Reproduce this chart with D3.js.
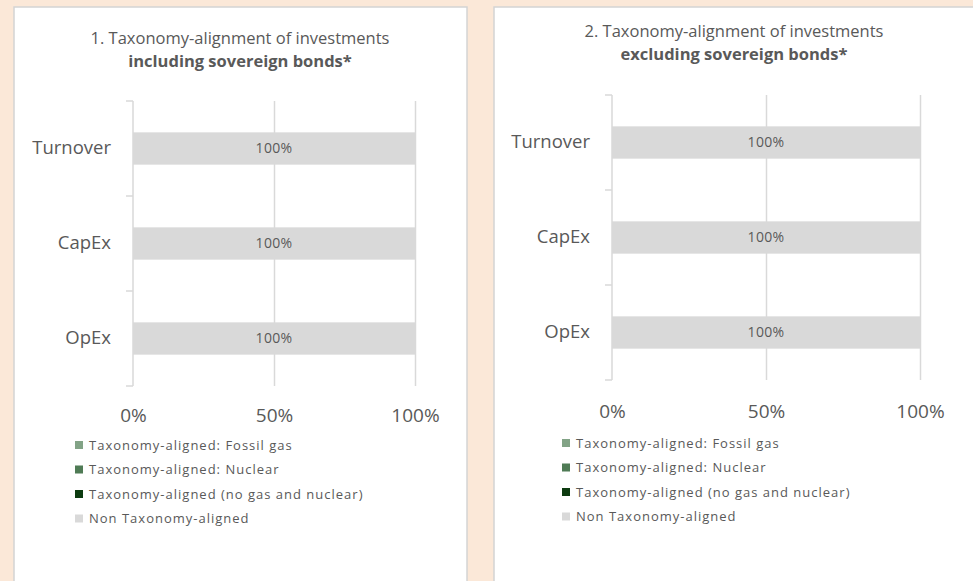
<!DOCTYPE html>
<html>
<head>
<meta charset="utf-8">
<script src="https://cdnjs.cloudflare.com/ajax/libs/d3/7.8.5/d3.min.js"></script>
<style>
  html, body { margin: 0; padding: 0; background: #fbe8d8; }
  svg { display: block; font-family: "Open Sans", "Liberation Sans", sans-serif; }
</style>
</head>
<body>
<svg width="973" height="581"></svg>
<script>
// categories and series
const categories = ["Turnover", "CapEx", "OpEx"];
const seriesNames = [
  "Taxonomy-aligned: Fossil gas",
  "Taxonomy-aligned: Nuclear",
  "Taxonomy-aligned (no gas and nuclear)",
  "Non Taxonomy-aligned"
];
const seriesColors = ["#82a386", "#4f7b55", "#0d3b10", "#d9d9d9"];
const xTicks = [0, 50, 100];

// chart 1: including sovereign bonds
const fossilGasIncl = [0, 0, 0];
const nuclearIncl = [0, 0, 0];
const alignedIncl = [0, 0, 0];
const nonAlignedIncl = [100, 100, 100];

// chart 2: excluding sovereign bonds
const fossilGasExcl = [0, 0, 0];
const nuclearExcl = [0, 0, 0];
const alignedExcl = [0, 0, 0];
const nonAlignedExcl = [100, 100, 100];

const titles1 = ["1. Taxonomy-alignment of investments", "including sovereign bonds*"];
const titles2 = ["2. Taxonomy-alignment of investments", "excluding sovereign bonds*"];

document.addEventListener("DOMContentLoaded", function() {
    let svg = d3.select("svg");
    const grey = "#d9d9d9";
    const textCol = "#595959";

    function rows(f, n, a, o) {
        return categories.map((c, i) => ({
            cat: c, s0: f[i], s1: n[i], s2: a[i], s3: o[i]
        }));
    }

    function drawPanel(cfg, data, titleLines) {
        // white card
        svg.append("rect")
            .attr("x", cfg.px).attr("y", 7)
            .attr("width", cfg.pw).attr("height", 620)
            .style("fill", "#fff")
            .style("stroke", "#d4d4d4")
            .style("stroke-width", 1.5);

        let g = svg.append("g");

        let x = d3.scaleLinear().domain([0, 100]).range([cfg.x0, cfg.x1]);
        let y = d3.scaleBand().domain(categories).range([cfg.y0, cfg.y1]).paddingInner(0.66).paddingOuter(0.33);

        // vertical gridlines
        g.append("g")
            .attr("transform", "translate(0," + cfg.y1 + ")")
            .call(d3.axisBottom(x).tickValues(xTicks.slice(1)).tickSize(-(cfg.y1 - cfg.y0)).tickFormat(""))
            .call(s => s.select(".domain").remove())
            .call(s => s.selectAll("line").style("stroke", grey).style("stroke-width", 1.5));

        // stacked bars
        let keys = ["s0", "s1", "s2", "s3"];
        let stack = d3.stack().keys(keys)(data);
        stack.forEach((layer, li) => {
            g.selectAll(null)
                .data(layer)
                .enter().append("rect")
                .attr("x", d => x(d[0]))
                .attr("y", d => y(d.data.cat))
                .attr("width", d => x(d[1]) - x(d[0]))
                .attr("height", y.bandwidth())
                .style("fill", seriesColors[li]);
            g.selectAll(null)
                .data(layer.filter(d => d[1] - d[0] > 0))
                .enter().append("text")
                .attr("x", d => (x(d[0]) + x(d[1])) / 2)
                .attr("y", d => y(d.data.cat) + y.bandwidth() / 2)
                .attr("dy", "0.35em")
                .attr("text-anchor", "middle")
                .style("font-size", "14px")
                .style("letter-spacing", "0.3px")
                .style("fill", textCol)
                .text(d => Math.round(d[1] - d[0]) + "%");
        });

        // category axis: line + ticks at band boundaries
        let step = (cfg.y1 - cfg.y0) / categories.length;
        g.append("line")
            .attr("x1", cfg.x0).attr("x2", cfg.x0)
            .attr("y1", cfg.y0).attr("y2", cfg.y1)
            .style("stroke", grey).style("stroke-width", 1.5);
        g.selectAll(null)
            .data(d3.range(categories.length + 1))
            .enter().append("line")
            .attr("x1", cfg.x0 - 7).attr("x2", cfg.x0)
            .attr("y1", i => cfg.y0 + i * step).attr("y2", i => cfg.y0 + i * step)
            .style("stroke", grey).style("stroke-width", 1.5);

        g.append("g")
            .attr("transform", "translate(" + cfg.x0 + ",0)")
            .call(d3.axisLeft(y).tickSize(0).tickPadding(22))
            .attr("font-family", null)
            .call(s => s.select(".domain").remove())
            .call(s => s.selectAll("text").style("font-size", "18.5px").style("fill", textCol));

        // percentage axis labels
        g.append("g")
            .attr("transform", "translate(0," + (cfg.y1 + cfg.tickOff) + ")")
            .call(d3.axisBottom(x).tickValues(xTicks).tickSize(0).tickPadding(0).tickFormat(d => d + "%"))
            .attr("font-family", null)
            .call(s => s.select(".domain").remove())
            .call(s => s.selectAll("text").attr("dy", "0.35em").attr("y", 0)
                .style("font-size", "19px").style("fill", textCol));

        // title
        let t = g.append("text")
            .attr("text-anchor", "middle")
            .style("fill", textCol)
            .style("font-size", "16.5px");
        t.append("tspan").attr("x", cfg.tx).attr("y", cfg.ty).text(titleLines[0]);
        t.append("tspan").attr("x", cfg.tx).attr("y", cfg.ty + 23)
            .style("font-weight", "bold").text(titleLines[1]);

        // legend
        let leg = g.selectAll(null)
            .data(seriesNames)
            .enter().append("g")
            .attr("transform", (d, i) => "translate(" + cfg.lx + "," + (cfg.ly + i * 24.5) + ")");
        leg.append("rect")
            .attr("x", 0).attr("y", -4)
            .attr("width", 8).attr("height", 8)
            .style("fill", (d, i) => seriesColors[i]);
        leg.append("text")
            .attr("x", 14).attr("dy", "0.35em")
            .style("font-size", "13px")
            .style("letter-spacing", "1px")
            .style("fill", textCol)
            .text(d => d);
    }

    drawPanel({px: 14, pw: 453, x0: 133, x1: 415, y0: 101, y1: 386, tickOff: 29,
               tx: 240, ty: 44, lx: 75, ly: 445},
              rows(fossilGasIncl, nuclearIncl, alignedIncl, nonAlignedIncl), titles1);
    drawPanel({px: 494, pw: 500, x0: 612, x1: 920, y0: 95, y1: 380, tickOff: 31,
               tx: 734, ty: 37, lx: 562, ly: 443},
              rows(fossilGasExcl, nuclearExcl, alignedExcl, nonAlignedExcl), titles2);
});
</script>
</body>
</html>
